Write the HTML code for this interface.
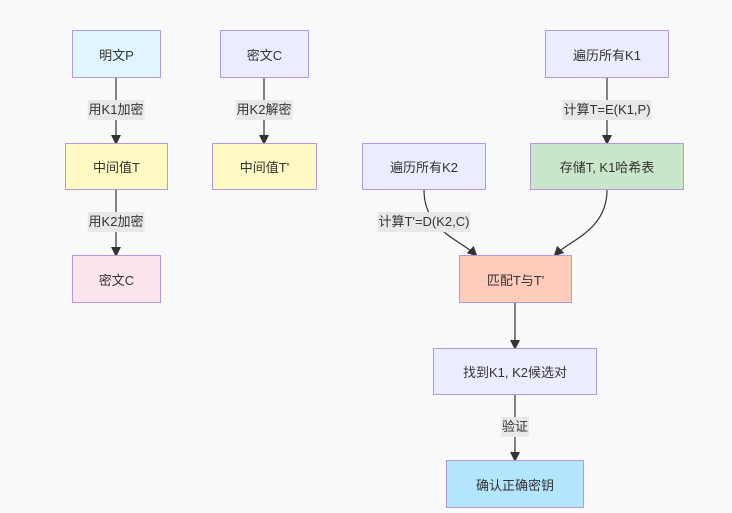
<!DOCTYPE html>
<html><head><meta charset="utf-8"><style>
body{margin:0;width:732px;height:513px;background:#f8f9fb;font-family:"Liberation Sans","Noto Sans CJK SC",sans-serif;position:relative;overflow:hidden}
.n{position:absolute;box-sizing:border-box;border:1.5px solid #b497e6;display:flex;align-items:center;justify-content:center;font-size:13px;color:#333}
.l{position:absolute;background:#e8e8e8;font-size:13px;color:#333;padding:1px 1px;line-height:18px;transform:translate(-50%,-50%);white-space:nowrap}
svg{position:absolute;left:0;top:0}
</style></head><body>
<svg width="732" height="513">
<defs><marker id="a" markerWidth="10" markerHeight="10" refX="8" refY="5" orient="auto" markerUnits="userSpaceOnUse"><path d="M0,0L10,5L0,10z" fill="#333"/></marker></defs>
<g stroke="#333" stroke-width="1.2" fill="none">
<path d="M116,78V143" marker-end="url(#a)"/>
<path d="M116,190V255" marker-end="url(#a)"/>
<path d="M264,78V143" marker-end="url(#a)"/>
<path d="M607,78V143" marker-end="url(#a)"/>
<path d="M424,190C424,230 460,240 476,255" marker-end="url(#a)"/>
<path d="M607,190C607,230 570,240 555,255" marker-end="url(#a)"/>
<path d="M515,303V348" marker-end="url(#a)"/>
<path d="M515,395V460" marker-end="url(#a)"/>
</g></svg>
<div class="n" style="left:72px;top:30px;width:89px;height:48px;background:#e1f5fe">明文P</div>
<div class="n" style="left:220px;top:30px;width:89px;height:48px;background:#ececff">密文C</div>
<div class="n" style="left:65px;top:143px;width:103px;height:47px;background:#fff9c4">中间值T</div>
<div class="n" style="left:212px;top:143px;width:105px;height:47px;background:#fff9c4">中间值T'</div>
<div class="n" style="left:72px;top:255px;width:89px;height:48px;background:#fce4ec">密文C</div>
<div class="n" style="left:545px;top:30px;width:124px;height:48px;background:#ececff">遍历所有K1</div>
<div class="n" style="left:362px;top:143px;width:124px;height:47px;background:#ececff">遍历所有K2</div>
<div class="n" style="left:530px;top:143px;width:154px;height:47px;background:#c8e6c9">存储T, K1哈希表</div>
<div class="n" style="left:459px;top:255px;width:113px;height:48px;background:#ffccbc">匹配T与T'</div>
<div class="n" style="left:433px;top:348px;width:164px;height:47px;background:#ececff">找到K1, K2候选对</div>
<div class="n" style="left:446px;top:460px;width:138px;height:48px;background:#b3e5fc">确认正确密钥</div>
<div class="l" style="left:116px;top:110px">用K1加密</div>
<div class="l" style="left:116px;top:222px">用K2加密</div>
<div class="l" style="left:264px;top:110px">用K2解密</div>
<div class="l" style="left:607px;top:110px">计算T=E(K1,P)</div>
<div class="l" style="left:424px;top:222px">计算T'=D(K2,C)</div>
<div class="l" style="left:515px;top:427px">验证</div>
</body></html>
